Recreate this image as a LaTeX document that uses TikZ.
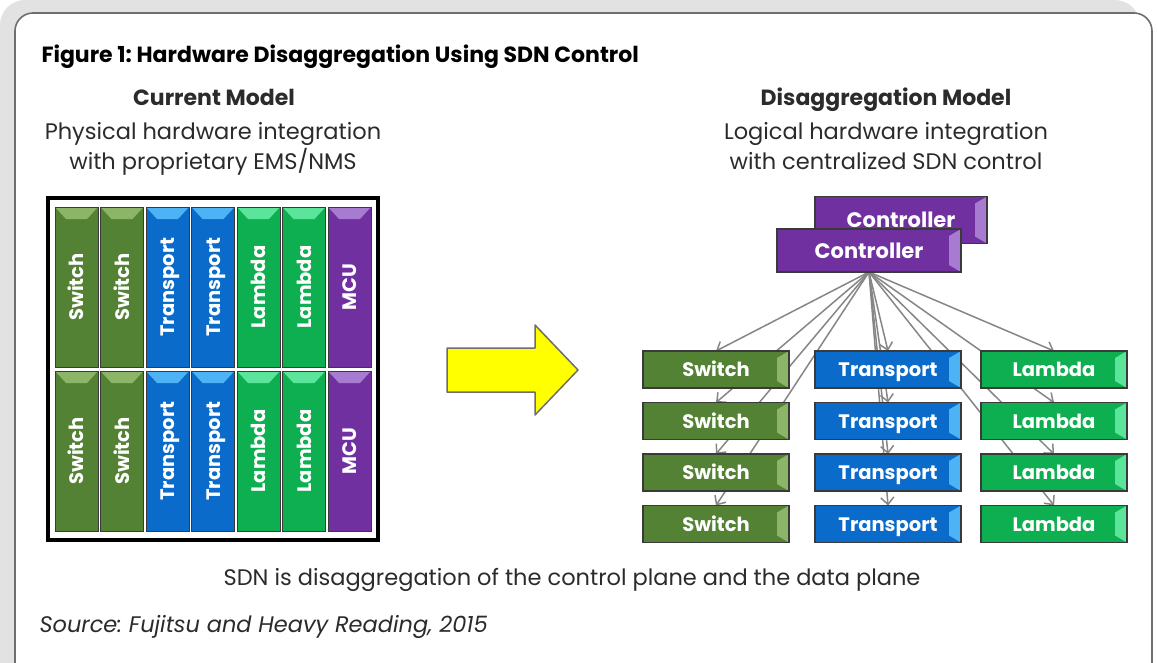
\documentclass[tikz,border=0pt]{standalone}
\usepackage{fontspec}
\setmainfont{Poppins}
\usepackage{xcolor}
\usepackage{graphicx}
\definecolor{switchgreen}{HTML}{548235}
\definecolor{switchlight}{HTML}{8CB567}
\definecolor{transblue}{HTML}{0B6BCB}
\definecolor{translight}{HTML}{4DB3F5}
\definecolor{lambdagreen}{HTML}{0DAF50}
\definecolor{lambdalight}{HTML}{5AE59A}
\definecolor{mcupurple}{HTML}{7030A0}
\definecolor{mculight}{HTML}{A77BD0}
\definecolor{boxedge}{HTML}{3A3A3A}
\definecolor{linkgray}{HTML}{868686}
\definecolor{bandgray}{HTML}{E2E2E2}
\definecolor{framegray}{HTML}{6E6E6E}
\definecolor{textgray}{HTML}{2B2B2B}
\definecolor{arrowyellow}{HTML}{FFFF00}
\usepackage{tikz}
\usetikzlibrary{positioning,fit,arrows.meta}
\pgfdeclarelayer{bg}
\pgfdeclarelayer{links}
\pgfsetlayers{bg,links,main}
\frenchspacing
\newcommand{\vlab}[1]{\rotatebox{90}{\raisebox{0pt}[14pt][0pt]{#1}}}

\begin{document}
\begin{tikzpicture}[x=1pt, y=-1pt,
    vbevel/.style={path picture={\fill[#1] (path picture bounding box.north west) -- (path picture bounding box.north east)
        -- ([shift={(-11pt,-12pt)}]path picture bounding box.north east) -- ([shift={(11pt,-12pt)}]path picture bounding box.north west) -- cycle;}},
    hbevel/.style={path picture={\fill[#1] (path picture bounding box.north east) -- (path picture bounding box.south east)
        -- ([shift={(-12pt,7pt)}]path picture bounding box.south east) -- ([shift={(-12pt,-7pt)}]path picture bounding box.north east) -- cycle;}},
    col/.style={rectangle, draw=boxedge, line width=1pt, minimum width=43pt, minimum height=160pt,
        inner sep=0pt, outer sep=0pt, text=white, font=\fontsize{19.5}{19.5}\selectfont\bfseries},
    unit/.style={rectangle, draw=boxedge, line width=1.2pt, minimum width=146pt, minimum height=37pt,
        inner sep=0pt, outer sep=0pt, text=white, text height=14pt, text depth=0pt,
        font=\fontsize{19.5}{19.5}\selectfont\bfseries},
    switchcol/.style={col, fill=switchgreen, vbevel=switchlight},
    transcol/.style={col, fill=transblue, vbevel=translight},
    lambdacol/.style={col, fill=lambdagreen, vbevel=lambdalight},
    mcucol/.style={col, fill=mcupurple, vbevel=mculight},
    switchbox/.style={unit, fill=switchgreen, hbevel=switchlight},
    transbox/.style={unit, fill=transblue, hbevel=translight},
    lambdabox/.style={unit, fill=lambdagreen, hbevel=lambdalight},
    ctrlbox/.style={unit, fill=mcupurple, hbevel=mculight, minimum width=184pt, minimum height=43pt,
        font=\fontsize{21}{21}\selectfont\bfseries, text height=15pt},
    link/.style={draw=linkgray, line width=1.5pt, -{Straight Barb[length=7pt,width=13pt]}},
    heading/.style={font=\fontsize{22}{24}\selectfont\bfseries, text=textgray, text height=16pt, text depth=0pt},
    subtext/.style={font=\fontsize{22.5}{30}\selectfont, text=textgray, align=center, text depth=6pt}]
  \useasboundingbox (0,0) rectangle (1158,662);
  \begin{pgfonlayer}{bg}
    \fill[bandgray, rounded corners=25pt] (0,0) rectangle (1140,700);
    \draw[framegray, fill=white, line width=1.6pt, rounded corners=18pt] (15,13) rectangle (1152,700);
  \end{pgfonlayer}

  % headings
  \node[anchor=west, font=\fontsize{22}{24}\selectfont\bfseries] (title) at (38,57) {Figure 1: Hardware Disaggregation Using SDN Control};
  \node[heading] (curhead) at (214,97) {Current Model};
  \node[subtext] (cursub) at (213,149) {Physical hardware integration\\with proprietary EMS/NMS};
  \node[heading] (dishead) at (886,97) {Disaggregation Model};
  \node[subtext] (dissub) at (886,149) {Logical hardware integration\\with centralized SDN control};

  % current model
  \node[switchcol] (P1) at (76.5,287) {\vlab{Switch}};
  \node[switchcol, right=2.5pt of P1] (P2) {\vlab{Switch}};
  \node[transcol, right=2.5pt of P2] (P3) {\vlab{Transport}};
  \node[transcol, right=2.5pt of P3] (P4) {\vlab{Transport}};
  \node[lambdacol, right=2.5pt of P4] (P5) {\vlab{Lambda}};
  \node[lambdacol, right=2.5pt of P5] (P6) {\vlab{Lambda}};
  \node[mcucol, right=2.5pt of P6] (P7) {\vlab{MCU}};
  \node[switchcol, below=4pt of P1] (Q1) {\vlab{Switch}};
  \node[switchcol, below=4pt of P2] (Q2) {\vlab{Switch}};
  \node[transcol, below=4pt of P3] (Q3) {\vlab{Transport}};
  \node[transcol, below=4pt of P4] (Q4) {\vlab{Transport}};
  \node[lambdacol, below=4pt of P5] (Q5) {\vlab{Lambda}};
  \node[lambdacol, below=4pt of P6] (Q6) {\vlab{Lambda}};
  \node[mcucol, below=4pt of P7] (Q7) {\vlab{MCU}};
  \node[draw=black, line width=4pt, inner xsep=7pt, inner ysep=9pt, fit=(P1)(Q7)] (rack) {};

  % arrow
  \draw[fill=arrowyellow, draw=framegray, line width=1.5pt, line join=round]
    (447,348) -- (535,348) -- (535,325) -- (578,370) -- (535,415) -- (535,392) -- (447,392) -- cycle;

  % disaggregation model
  \node[ctrlbox, minimum width=172pt, minimum height=47pt] (C2) at (901,220) {Controller};
  \node[ctrlbox] (C1) at (869,250.5) {Controller};
  \node[switchbox] (S1) at (716,369.5) {Switch};
  \node[switchbox, below=14.5pt of S1] (S2) {Switch};
  \node[switchbox, below=14.5pt of S2] (S3) {Switch};
  \node[switchbox, below=14.5pt of S3] (S4) {Switch};
  \node[transbox, right=26pt of S1] (T1) {Transport};
  \node[transbox, below=14.5pt of T1] (T2) {Transport};
  \node[transbox, below=14.5pt of T2] (T3) {Transport};
  \node[transbox, below=14.5pt of T3] (T4) {Transport};
  \node[lambdabox, right=20pt of T1] (L1) {Lambda};
  \node[lambdabox, below=14.5pt of L1] (L2) {Lambda};
  \node[lambdabox, below=14.5pt of L2] (L3) {Lambda};
  \node[lambdabox, below=14.5pt of L3] (L4) {Lambda};

  \begin{pgfonlayer}{links}
    \draw[link] (C1.south) -- (S1.north);
    \draw[link] (C1.south) -- (S2.north);
    \draw[link] (C1.south) -- (S3.north);
    \draw[link] (C1.south) -- (S4.north);
    \draw[link] (C1.south) -- (T1.north);
    \draw[link] (C1.south) -- (T2.north);
    \draw[link] (C1.south) -- (T3.north);
    \draw[link] (C1.south) -- (T4.north);
    \draw[link] (C1.south) -- (L1.north);
    \draw[link] (C1.south) -- (L2.north);
    \draw[link] (C1.south) -- (L3.north);
    \draw[link] (C1.south) -- (L4.north);
  \end{pgfonlayer}

  % footer
  \node[font=\fontsize{22.5}{24}\selectfont, text=textgray] (note) at (572,580) {SDN is disaggregation of the control plane and the data plane};
  \node[anchor=west, font=\fontsize{22.5}{24}\selectfont\itshape, text=textgray] (src) at (36,627) {Source: Fujitsu and Heavy Reading, 2015};
\end{tikzpicture}
\end{document}
